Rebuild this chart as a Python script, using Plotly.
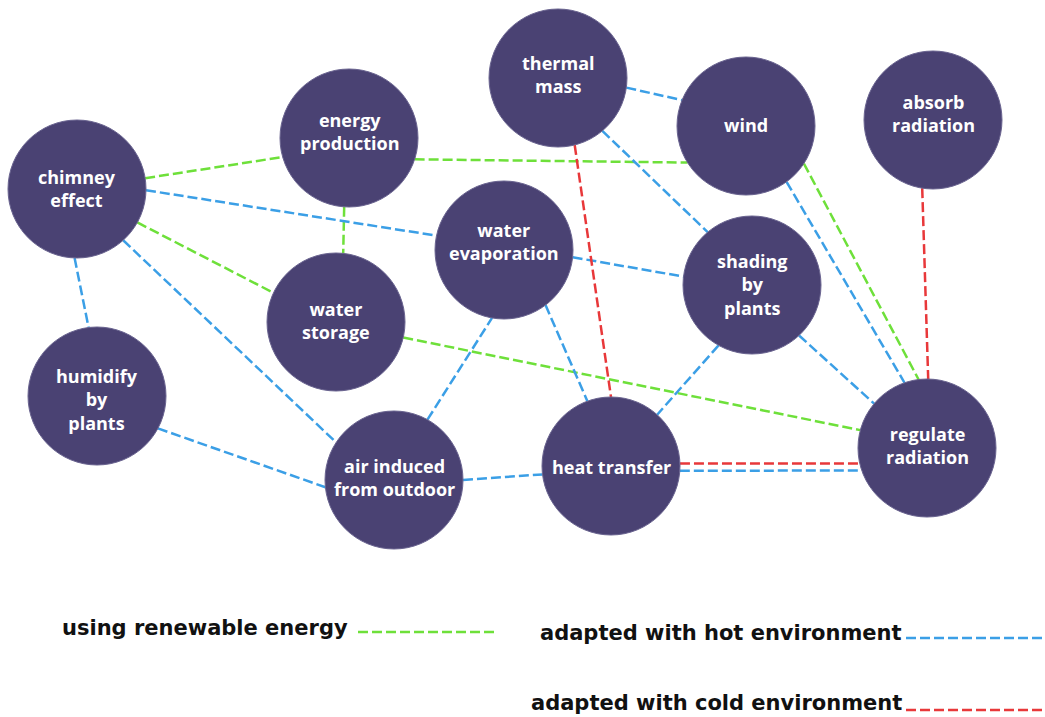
import math
import plotly.graph_objects as go

# ---- data ----
node_names = ["chimney", "energy", "storage", "humidify", "air", "evap",
              "thermal", "wind", "absorb", "shading", "heat", "regulate"]
node_labels = ["chimney<br>effect", "energy<br>production", "water<br>storage",
               "humidify<br>by<br>plants", "air induced<br>from outdoor",
               "water<br>evaporation", "thermal<br>mass", "wind",
               "absorb<br>radiation", "shading<br>by<br>plants",
               "heat transfer", "regulate<br>radiation"]
node_x = [77, 349, 336, 97, 394, 504, 558, 746, 933, 752, 611, 927]
node_y = [189, 138, 322, 396, 480, 250, 78, 126, 120, 285, 466, 448]
label_y = [188, 131, 320, 399, 477, 241, 74, 125, 113, 284, 467, 445]
node_r = 69

# edges: (from, to, angle at from [deg], angle at to [deg], kind)
edges = [
    ("chimney", "energy", -9, 164, "renew"),
    ("energy", "wind", 18, 148, "renew"),
    ("energy", "storage", 94, -84, "renew"),
    ("chimney", "storage", 29, -155, "renew"),
    ("storage", "regulate", 13, -165, "renew"),
    ("wind", "regulate", 33, -97, "renew"),
    ("chimney", "evap", 1, -168, "hot"),
    ("chimney", "humidify", 92, -97, "hot"),
    ("chimney", "air", 48, -147, "hot"),
    ("humidify", "air", 28, 174, "hot"),
    ("air", "evap", -61, 100, "hot"),
    ("air", "heat", 0, 173, "hot"),
    ("evap", "heat", 53, -110, "hot"),
    ("evap", "shading", 6, -173, "hot"),
    ("thermal", "wind", 8, -158, "hot"),
    ("thermal", "shading", 50, -130, "hot"),
    ("wind", "regulate", 54, -109, "hot"),
    ("shading", "regulate", 47, -140, "hot"),
    ("shading", "heat", 119, -48, "hot"),
    ("heat", "regulate", 4, 161, "hot"),
    ("thermal", "heat", 76, -90, "cold"),
    ("absorb", "regulate", 99, -89, "cold"),
    ("heat", "regulate", -2, 167, "cold"),
]

legend_kinds = ["renew", "hot", "cold"]
legend_texts = ["using renewable energy", "adapted with hot environment",
                "adapted with cold environment"]
kind_colors = {"renew": "#6ee03a", "hot": "#3b9fe6", "cold": "#e8383a"}

node_color = "#4a4273"

# ---- figure ----
fig = go.Figure()
pos = {n: (x, y) for n, x, y in zip(node_names, node_x, node_y)}

def on_circle(name, ang):
    cx, cy = pos[name]
    a = math.radians(ang)
    return cx + node_r * math.cos(a), cy + node_r * math.sin(a)

for a, b, aa, ab, kind in edges:
    x0, y0 = on_circle(a, aa)
    x1, y1 = on_circle(b, ab)
    fig.add_trace(go.Scatter(x=[x0, x1], y=[y0, y1], mode="lines",
                             line=dict(color=kind_colors[kind], width=2.5, dash="10px,4px"),
                             hoverinfo="skip", showlegend=False))

shapes = []
for n, x, y in zip(node_names, node_x, node_y):
    shapes.append(dict(type="circle", xref="x", yref="y",
                       x0=x - node_r, x1=x + node_r, y0=y - node_r, y1=y + node_r,
                       fillcolor=node_color, line=dict(color="#6a6490", width=1),
                       layer="above"))

annotations = []
for lab, x, ly in zip(node_labels, node_x, label_y):
    annotations.append(dict(x=x, y=ly, xref="x", yref="y", text=lab, showarrow=False,
                            font=dict(family="Open Sans", size=18, color="white", weight="bold"),
                            align="center", xanchor="center", yanchor="middle"))

# legend (drawn manually as in the reference)
leg_text_x = [60, 904, 904]
leg_text_anchor = ["left", "right", "right"]
leg_text_y = [628, 633, 703]
leg_line_x0 = [358, 906, 906]
leg_line_x1 = [497, 1045, 1045]
leg_line_y = [632, 638, 710]

for k, t, tx, anc, ty, lx0, lx1, lyy in zip(legend_kinds, legend_texts, leg_text_x,
                                              leg_text_anchor, leg_text_y,
                                              leg_line_x0, leg_line_x1, leg_line_y):
    annotations.append(dict(x=tx, y=ty, xref="x", yref="y", text=t, showarrow=False,
                            font=dict(family="DejaVu Sans", size=21, color="#111111", weight="bold"),
                            xanchor=anc, yanchor="middle"))
    fig.add_trace(go.Scatter(x=[lx0, lx1], y=[lyy, lyy], mode="lines",
                             line=dict(color=kind_colors[k], width=2.5, dash="10px,4px"),
                             hoverinfo="skip", showlegend=False))

fig.update_layout(width=1045, height=717, margin=dict(l=0, r=0, t=0, b=0),
                  paper_bgcolor="white", plot_bgcolor="white",
                  xaxis=dict(range=[0, 1045], visible=False, fixedrange=True),
                  yaxis=dict(range=[717, 0], visible=False, fixedrange=True),
                  shapes=shapes, annotations=annotations, showlegend=False)

fig.write_html("out.html", config={"displayModeBar": False},
               post_script="document.body.style.margin='0';document.body.style.overflow='hidden';")
